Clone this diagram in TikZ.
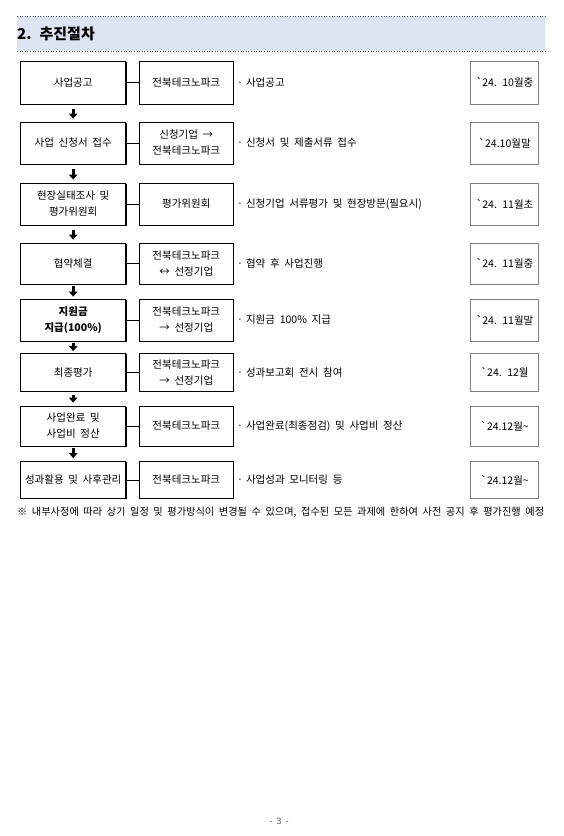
\documentclass[tikz,border=0pt]{standalone}
\usepackage{fontspec}
\newfontfamily\krfont[WordSpace=2]{Noto Sans CJK KR}
\usetikzlibrary{arrows.meta,shadows}
\definecolor{headerblue}{RGB}{220,228,242}
\definecolor{boxgray}{RGB}{128,128,128}
\newcommand{\bul}{·\hspace{3pt}}

\begin{document}
\begin{tikzpicture}[x=1pt,y=-1pt,
    font=\krfont\fontsize{10.5}{16}\selectfont,
    stepbox/.style={draw, line width=0.8pt, fill=white, align=center, inner sep=0pt,
        general shadow={fill=black, shadow xshift=0.9pt, shadow yshift=-0.9pt}},
    leftbox/.style={stepbox, minimum width=105pt},
    midbox/.style={stepbox, minimum width=94pt},
    datebox/.style={draw=boxgray, line width=0.6pt, minimum width=68pt, inner sep=0pt},
    boldtext/.style={font=\krfont\bfseries\fontsize{10.5}{16}\selectfont},
    bullet/.style={anchor=west, inner sep=0pt},
    link/.style={line width=0.8pt},
    flow/.style={line width=2.8pt, -{Triangle[width=8.5pt,length=5pt]}}]
    \useasboundingbox (0,0) rectangle (563,836);

    % header band
    \fill[headerblue] (17,16) rectangle (545,51);
    \draw[dotted, black!70, line width=0.6pt] (17,16) -- (545,16);
    \draw[dotted, black!70, line width=0.6pt] (17,51) -- (545,51);
    \node[anchor=west, inner sep=0pt, font=\krfont\bfseries\fontsize{15}{18}\selectfont] (title) at (17,34) {2. 추진절차};

    % step 1
    \node[leftbox, minimum height=43pt] (s1) at (73.2,82.5) {사업공고};
    \node[midbox, minimum height=43pt] (m1) at (186.3,82.5) {전북테크노파크};
    \node[bullet] (b1) at (237,82.5) {\bul 사업공고};
    \node[datebox, minimum height=43pt] (d1) at (504.7,82.5) {\textasciigrave 24. 10월중};

    % step 2
    \node[leftbox, minimum height=42pt] (s2) at (73.2,143) {사업 신청서 접수};
    \node[midbox, minimum height=42pt] (m2) at (186.3,143) {신청기업 →\\전북테크노파크};
    \node[bullet] (b2) at (237,143) {\bul 신청서 및 제출서류 접수};
    \node[datebox, minimum height=42pt] (d2) at (504.7,143) {\textasciigrave 24.10월말};

    % step 3
    \node[leftbox, minimum height=42pt] (s3) at (73.2,204) {현장실태조사 및\\평가위원회};
    \node[midbox, minimum height=42pt] (m3) at (186.3,204) {평가위원회};
    \node[bullet] (b3) at (237,204) {\bul 신청기업 서류평가 및 현장방문(필요시)};
    \node[datebox, minimum height=42pt] (d3) at (504.7,204) {\textasciigrave 24. 11월초};

    % step 4
    \node[leftbox, minimum height=41pt] (s4) at (73.2,263.5) {협약체결};
    \node[midbox, minimum height=41pt] (m4) at (186.3,263.5) {전북테크노파크\\↔ 선정기업};
    \node[bullet] (b4) at (237,263.5) {\bul 협약 후 사업진행};
    \node[datebox, minimum height=41pt] (d4) at (504.7,263.5) {\textasciigrave 24. 11월중};

    % step 5
    \node[leftbox, boldtext, minimum height=42pt] (s5) at (73.2,320) {지원금\\지급(100\%)};
    \node[midbox, minimum height=42pt] (m5) at (186.3,320) {전북테크노파크\\→ 선정기업};
    \node[bullet] (b5) at (237,320) {\bul 지원금 100\% 지급};
    \node[datebox, minimum height=42pt] (d5) at (504.7,320) {\textasciigrave 24. 11월말};

    % step 6
    \node[leftbox, minimum height=38pt] (s6) at (73.2,372.5) {최종평가};
    \node[midbox, minimum height=38pt] (m6) at (186.3,372.5) {전북테크노파크\\→ 선정기업};
    \node[bullet] (b6) at (237,372.5) {\bul 성과보고회 전시 참여};
    \node[datebox, minimum height=38pt] (d6) at (504.7,372.5) {\textasciigrave 24. 12월};

    % step 7
    \node[leftbox, minimum height=40pt] (s7) at (73.2,426) {사업완료 및\\사업비 정산};
    \node[midbox, minimum height=40pt] (m7) at (186.3,426) {전북테크노파크};
    \node[bullet] (b7) at (237,426) {\bul 사업완료(최종점검) 및 사업비 정산};
    \node[datebox, minimum height=40pt] (d7) at (504.7,426) {\textasciigrave 24.12월\textasciitilde};

    % step 8
    \node[leftbox, minimum height=37pt] (s8) at (73.2,480) {성과활용 및 사후관리};
    \node[midbox, minimum height=37pt] (m8) at (186.3,480) {전북테크노파크};
    \node[bullet] (b8) at (237,480) {\bul 사업성과 모니터링 등};
    \node[datebox, minimum height=37pt] (d8) at (504.7,480) {\textasciigrave 24.12월\textasciitilde};

    % links
    \draw[link] (s1) -- (m1);
    \draw[link] (s2) -- (m2);
    \draw[link] (s3) -- (m3);
    \draw[link] (s4) -- (m4);
    \draw[link] (s5) -- (m5);
    \draw[link] (s6) -- (m6);
    \draw[link] (s7) -- (m7);
    \draw[link] (s8) -- (m8);

    % flow arrows
    \draw[flow, shorten <=5pt, shorten >=3pt] (s1) -- (s2);
    \draw[flow, shorten <=5pt, shorten >=3pt] (s2) -- (s3);
    \draw[flow, shorten <=5pt, shorten >=3pt] (s3) -- (s4);
    \draw[flow, shorten <=2pt, shorten >=2pt] (s4) -- (s5);
    \draw[flow, shorten <=1.5pt, shorten >=2pt] (s5) -- (s6);
    \draw[flow, shorten <=3pt, shorten >=3pt] (s6) -- (s7);
    \draw[flow, shorten <=2pt, shorten >=3pt] (s7) -- (s8);

    % footnote and page number
    \node[anchor=west, inner sep=0pt, font=\krfont\fontsize{10.2}{12}\selectfont] (note) at (17,512)
        {※ 내부사정에 따라 상기 일정 및 평가방식이 변경될 수 있으며, 접수된 모든 과제에 한하여 사전 공지 후 평가진행 예정};
    \node[font=\krfont\fontsize{9}{11}\selectfont, text=black!70] (page) at (279,821) {- 3 -};
\end{tikzpicture}
\end{document}
